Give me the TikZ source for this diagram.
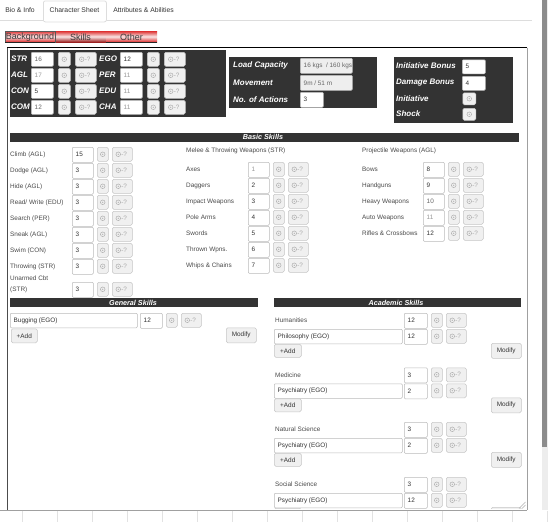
\documentclass[tikz,border=0pt]{standalone}
\usepackage{fontspec}
\setmainfont{Liberation Sans}
\usetikzlibrary{calc}
\definecolor{panel}{HTML}{333333}
\definecolor{inbord}{HTML}{BBBBBB}
\definecolor{btnbord}{HTML}{C6C6C6}
\definecolor{btnfill}{HTML}{F0F0F0}
\definecolor{disfill}{HTML}{EEEEEE}
\definecolor{btntext}{HTML}{333333}
\definecolor{lbltext}{HTML}{4A4A4A}
\definecolor{valdark}{HTML}{333333}
\definecolor{valmid}{HTML}{666666}
\definecolor{vallight}{HTML}{999999}
\definecolor{diecol}{HTML}{AAAAAA}
\definecolor{tabline}{HTML}{DDDDDD}
\definecolor{tabtext}{HTML}{333333}
\definecolor{subtext}{HTML}{3A3A3A}
\definecolor{tabred}{HTML}{DE2F2F}
\definecolor{tabmid}{HTML}{F8E4E4}
\definecolor{gridcol}{HTML}{E2E2E2}
\definecolor{framecol}{HTML}{A0A0A0}
\definecolor{thumbcol}{HTML}{8C8C8C}
\definecolor{trackcol}{HTML}{EDEDED}
\newcommand{\uiSmall}{\fontsize{6.4}{7.5}\selectfont}
\newcommand{\uiTwo}{\fontsize{6.4}{11}\selectfont}
\newcommand{\uiBold}{\fontsize{8}{9.5}\selectfont\bfseries\itshape}
\newcommand{\uiHead}{\fontsize{7.2}{8.5}\selectfont\bfseries\itshape}
\newcommand{\uiTab}{\fontsize{6.8}{8}\selectfont}
\newcommand{\uiSub}{\fontsize{9}{10.5}\selectfont}
\tikzset{
  inbox/.style={draw=inbord, fill=white, line width=0.5pt, rounded corners=1pt, anchor=north west, inner sep=0pt, minimum height=15pt, minimum width=21pt},
  dbox/.style={inbox, fill=disfill},
  btn/.style={draw=btnbord, fill=btnfill, line width=0.5pt, rounded corners=1.5pt, anchor=north west, inner sep=0pt, minimum height=14pt, font=\uiSmall, text=btntext},
  lbl/.style={anchor=west, inner sep=0pt, font=\uiSmall, text=lbltext},
  val/.style={anchor=west, inner sep=0pt, font=\uiSmall},
  wlbl/.style={anchor=west, inner sep=0pt, font=\uiBold, text=white},
  hdr/.style={inner sep=0pt, font=\uiHead, text=white},
  tabtxt/.style={inner sep=0pt, font=\uiTab, text=tabtext},
  subtxt/.style={inner sep=0pt, font=\uiSub, text=subtext},
}
\newcommand{\uiDie}[1]{\draw[diecol, line width=0.45pt] (#1) circle (2.3pt); \fill[diecol] (#1) circle (0.6pt);}
% value box + two dice buttons
\newcommand{\uiTrip}[6][21]{%
  \node[inbox, minimum width=#1pt] (#6) at (#2,#3) {};
  \node[val, text=#5] at ([xshift=3.5pt]#6.west) {#4};
  \node[btn, minimum width=11pt] (#6i) at (#2+#1+4,#3) {};
  \uiDie{#6i.center}
  \node[btn, minimum width=20pt] (#6b) at (#2+#1+19,#3) {};
  \uiDie{[xshift=-4pt]#6b.center}
  \node[val, text=diecol] at ([xshift=-1.2pt]#6b.center) {-?};
}
\newcommand{\uiStat}[6]{%
  \node[wlbl] (lb#2) at (#1,#4+7) {#2};
  \node[inbox, minimum width=22pt, minimum height=14pt] (st#2) at (#3,#4) {};
  \node[val, text=#6] at ([xshift=3.5pt]st#2.west) {#5};
  \node[btn, minimum width=12pt] (st#2i) at (#3+27,#4) {};
  \uiDie{st#2i.center}
  \node[btn, minimum width=21pt] (st#2b) at (#3+44,#4) {};
  \uiDie{[xshift=-4pt]st#2b.center}
  \node[val, text=diecol] at ([xshift=-1.2pt]st#2b.center) {-?};
}
\newcommand{\uiSkill}[7]{%
  \node[lbl] (#7t) at (#1,#4+7.5) {#2};
  \uiTrip{#3}{#4}{#5}{#6}{#7}
}
\newcommand{\uiAcad}[6]{%
  \node[lbl] (#6t) at (275,#1+7.5) {#2};
  \uiTrip[23]{404}{#1}{#4}{valdark}{#6a}
  \node[inbox, minimum width=128pt, minimum height=14.5pt] (#6w) at (274,#1+16) {};
  \node[val, text=valdark] at ([xshift=3.5pt]#6w.west) {#3};
  \uiTrip[23]{404}{#1+16}{#5}{valdark}{#6c}
  \node[btn, minimum width=27pt, minimum height=13pt] (#6p) at (274,#1+31) {+Add};
  \node[btn, minimum width=30pt, minimum height=15pt] (#6m) at (491,#1+30) {Modify};
}
\begin{document}
\begin{tikzpicture}[x=1pt,y=-1pt]
\useasboundingbox[fill=white] (0,0) rectangle (549,522);

% ---------- top tabs ----------
\draw[tabline, line width=0.8pt] (0,20.5) -- (532,20.5);
\node[draw=tabline, fill=white, line width=0.8pt, rounded corners=2pt, anchor=north west, minimum width=63pt, minimum height=21pt, inner sep=0pt] (tabcs) at (43,0.5) {};
\draw[white, line width=1.4pt] (43.9,20.5) -- (105.1,20.5);
\node[tabtxt] (tbio) at (20,10.5) {Bio \& Info};
\node[tabtxt] (tchar) at (74.5,10.5) {Character Sheet};
\node[tabtxt] (tattr) at (143.5,10.5) {Attributes \& Abilities};

% ---------- sub tabs ----------
\shade[top color=tabred, bottom color=tabred, middle color=tabmid] (5,31) rectangle (55,42);
\shade[top color=tabred, bottom color=tabred!70!black, middle color=tabmid] (55,31) rectangle (106,42);
\shade[top color=tabred, bottom color=tabred, middle color=tabmid] (106,31) rectangle (157,42);
\draw[gray!70!black, line width=0.5pt] (5,31) rectangle (55,42);
\draw[black!85, line width=0.8pt] (5,42) -- (55,42);
\draw[black!85, line width=0.8pt] (106,42) -- (157,42);
\node[subtxt] (sbg) at (30,36.8) {Background};
\node[subtxt] (ssk) at (80.5,36.8) {Skills};
\node[subtxt] (sot) at (131.5,36.8) {Other};

% ---------- scrollbar ----------
\fill[trackcol] (541.5,0) rectangle (547.5,510);
\fill[thumbcol] (542,0) rectangle (546.5,447);

% ---------- content (clipped to frame) ----------
\begin{scope}
\clip (7,47.5) rectangle (527,508.6);

% stats panel
\fill[panel] (10,50) rectangle (226,117);
\uiStat{11}{STR}{31}{52}{16}{valmid}
\uiStat{11}{AGL}{31}{68}{17}{vallight}
\uiStat{11}{CON}{31}{84}{5}{valdark}
\uiStat{11}{COM}{31}{100}{12}{valmid}
\uiStat{99}{EGO}{120}{52}{12}{valdark}
\uiStat{99}{PER}{120}{68}{11}{vallight}
\uiStat{99}{EDU}{120}{84}{11}{vallight}
\uiStat{99}{CHA}{120}{100}{11}{vallight}

% load panel
\fill[panel] (229,57) rectangle (377,108);
\node[wlbl] (llc) at (233,65.5) {Load Capacity};
\node[wlbl] (lmv) at (233,82.5) {Movement};
\node[wlbl] (lna) at (233,99.5) {No. of Actions};
\node[dbox, minimum width=52pt] (vlc) at (300,58) {};
\begin{scope}
\clip (300.5,58.5) rectangle (351.5,72.5);
\node[val, text=valmid] at ([xshift=3.5pt]vlc.west) {16 kgs \ / 160 kgs};
\end{scope}
\node[dbox, minimum width=52pt] (vmv) at (300,75) {};
\node[val, text=valmid] at ([xshift=3.5pt]vmv.west) {9m / 51 m};
\node[inbox, minimum width=23pt] (vna) at (300,92) {};
\node[val, text=valdark] at ([xshift=3.5pt]vna.west) {3};

% initiative panel
\fill[panel] (394,57) rectangle (513,123);
\node[wlbl] (lib) at (396,66) {Initiative Bonus};
\node[wlbl] (ldb) at (396,82.5) {Damage Bonus};
\node[wlbl] (lin) at (396,98.5) {Initiative};
\node[wlbl] (lsh) at (396,114) {Shock};
\node[inbox, minimum width=23pt, minimum height=14pt] (vib) at (462,59.5) {};
\node[val, text=valdark] at ([xshift=3.5pt]vib.west) {5};
\node[inbox, minimum width=23pt, minimum height=14pt] (vdb) at (462,76) {};
\node[val, text=valdark] at ([xshift=3.5pt]vdb.west) {4};
\node[btn, minimum width=13pt, minimum height=12pt] (bin) at (462.5,92.5) {};
\uiDie{bin.center}
\node[btn, minimum width=13pt, minimum height=12pt] (bsh) at (462.5,108) {};
\uiDie{bsh.center}

% basic skills
\fill[panel] (10,133) rectangle (519,141.5);
\node[hdr] (hbs) at (263,137.3) {Basic Skills};

\uiSkill{10}{Climb (AGL)}{72}{147}{15}{valdark}{l1}
\uiSkill{10}{Dodge (AGL)}{72}{163}{3}{valdark}{l2}
\uiSkill{10}{Hide (AGL)}{72}{179}{3}{valdark}{l3}
\uiSkill{10}{Read/ Write (EDU)}{72}{195}{3}{valdark}{l4}
\uiSkill{10}{Search (PER)}{72}{211}{3}{valdark}{l5}
\uiSkill{10}{Sneak (AGL)}{72}{227}{3}{valdark}{l6}
\uiSkill{10}{Swim (CON)}{72}{243}{3}{valdark}{l7}
\uiSkill{10}{Throwing (STR)}{72}{259}{3}{valdark}{l8}
\node[lbl, align=left, font=\uiTwo] (l9t) at (10,284.5) {Unarmed Cbt\\(STR)};
\uiTrip{72}{282}{3}{valdark}{l9}

\node[lbl] (hmel) at (186,150.5) {Melee \& Throwing Weapons (STR)};
\uiSkill{186}{Axes}{248}{162}{1}{vallight}{m1}
\uiSkill{186}{Daggers}{248}{178}{2}{valdark}{m2}
\uiSkill{186}{Impact Weapons}{248}{194}{3}{valdark}{m3}
\uiSkill{186}{Pole Arms}{248}{210}{4}{valdark}{m4}
\uiSkill{186}{Swords}{248}{226}{5}{valdark}{m5}
\uiSkill{186}{Thrown Wpns.}{248}{242}{6}{valdark}{m6}
\uiSkill{186}{Whips \& Chains}{248}{258}{7}{valdark}{m7}

\node[lbl] (hpro) at (362,150.5) {Projectile Weapons (AGL)};
\uiSkill{362}{Bows}{423}{162}{8}{valdark}{r1}
\uiSkill{362}{Handguns}{423}{178}{9}{valdark}{r2}
\uiSkill{362}{Heavy Weapons}{423}{194}{10}{valmid}{r3}
\uiSkill{362}{Auto Weapons}{423}{210}{11}{vallight}{r4}
\uiSkill{362}{Rifles \& Crossbows}{423}{226}{12}{valdark}{r5}

% general skills
\fill[panel] (10,298) rectangle (258,307);
\node[hdr] (hgs) at (133,302.5) {General Skills};
\node[inbox, minimum width=127pt, minimum height=14.5pt] (gw) at (10,313) {};
\node[val, text=valdark] at ([xshift=3.5pt]gw.west) {Bugging (EGO)};
\uiTrip[22]{140}{313}{12}{valdark}{gs}
\node[btn, minimum width=26pt, minimum height=14pt] (gadd) at (11,328.5) {+Add};
\node[btn, minimum width=30pt, minimum height=15pt] (gmod) at (226,327.5) {Modify};

% academic skills
\fill[panel] (274,298) rectangle (521,307);
\node[hdr] (has) at (396,302.5) {Academic Skills};
\uiAcad{313}{Humanities}{Philosophy (EGO)}{12}{12}{aa}
\uiAcad{367.5}{Medicine}{Psychiatry (EGO)}{3}{2}{ab}
\uiAcad{422}{Natural Science}{Psychiatry (EGO)}{3}{2}{ac}
\uiAcad{477}{Social Science}{Psychiatry (EGO)}{3}{12}{ad}
\end{scope}

% ---------- frame ----------
\draw[black, line width=0.9pt] (7,47.5) -- (527.3,47.5);
\draw[gray!60!black, line width=0.7pt] (7,47.5) -- (7,510);
\draw[framecol, line width=0.7pt] (527,47.5) -- (527,510);
\draw[framecol, line width=0.8pt] (0,510) -- (527,510);
\draw[gray!60, line width=0.5pt] (519,508.5) -- (525.5,502);
\draw[gray!60, line width=0.5pt] (522,508.5) -- (525.5,505);

% ---------- bottom grid ----------
\foreach \k in {0,...,15} {
  \draw[gridcol, line width=0.6pt] (22.5+35*\k,510.5) -- (22.5+35*\k,522);
}
\end{tikzpicture}
\end{document}
